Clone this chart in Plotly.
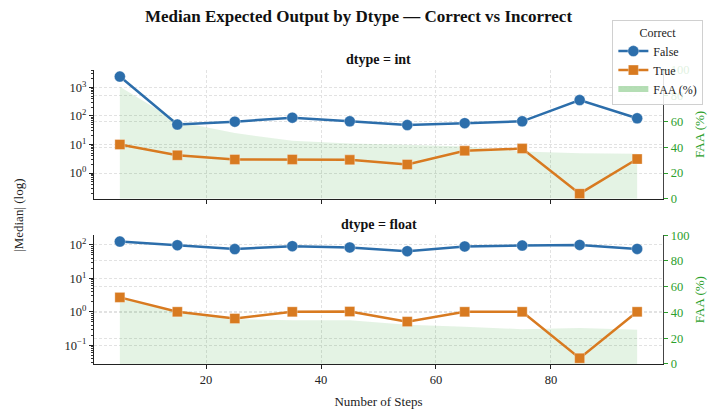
import plotly.graph_objects as go

steps = [5, 15, 25, 35, 45, 55, 65, 75, 85, 95]
int_false = [2400, 50, 63, 87, 65, 48, 56, 65, 360, 83]
int_true = [10, 4.2, 3.0, 3.0, 2.9, 2.0, 6.0, 7.2, 0.19, 3.1]
int_faa = [87, 60, 51, 45, 43, 42, 40.5, 36.7, 35.4, 35]
float_false = [126, 98, 75, 92, 84, 65, 90, 96, 100, 76]
float_true = [2.7, 1.0, 0.63, 1.0, 1.02, 0.51, 1.0, 1.0, 0.041, 1.0]
float_faa = [51.4, 40.6, 34.8, 34, 34, 30.4, 29, 27, 28, 26.6]

log_tickvals = [0.1, 1, 10, 100, 1000]
log_ticktext = ["10<sup>\u22121</sup>", "10<sup>0</sup>", "10<sup>1</sup>", "10<sup>2</sup>", "10<sup>3</sup>"]
faa_ticks = [0, 20, 40, 60, 80, 100]
minor_vals = [k * 10.0 ** p for p in range(-2, 4) for k in range(2, 10)]

BLUE = "#2c6eab"
ORANGE = "#d87a20"
GREEN = "#2ca02c"
FILL = "rgba(44,160,44,0.13)"
FONT = "Liberation Serif"

fig = go.Figure()

panels = [
    ("x", "y", "y2", int_false, int_true, int_faa),
    ("x2", "y3", "y4", float_false, float_true, float_faa),
]
for i, (xa, ya_faa, ya_log, fv, tv, faa) in enumerate(panels):
    fig.add_trace(go.Scatter(x=steps, y=faa, xaxis=xa, yaxis=ya_faa, fill="tozeroy",
                             mode="none", fillcolor=FILL, name="FAA (%)",
                             showlegend=False, hoverinfo="skip"))
    fig.add_trace(go.Scatter(x=steps, y=fv, xaxis=xa, yaxis=ya_log, mode="lines+markers",
                             line=dict(color=BLUE, width=2.5),
                             marker=dict(symbol="circle", size=11, color=BLUE,
                                         line=dict(color="rgba(255,255,255,0.4)", width=0.8)),
                             name="False", legendgroup="False", legendrank=1,
                             showlegend=(i == 0)))
    fig.add_trace(go.Scatter(x=steps, y=tv, xaxis=xa, yaxis=ya_log, mode="lines+markers",
                             line=dict(color=ORANGE, width=2.5),
                             marker=dict(symbol="square", size=10, color=ORANGE,
                                         line=dict(color="rgba(255,255,255,0.4)", width=0.8)),
                             name="True", legendgroup="True", legendrank=2,
                             showlegend=(i == 0)))

# legend proxy for FAA
fig.add_trace(go.Scatter(x=[None], y=[None], xaxis="x", yaxis="y", fill="tozeroy", mode="none",
                         fillcolor="rgba(44,160,44,0.35)", name="FAA (%)", legendrank=3,
                         showlegend=True))

grid = dict(showgrid=True, gridcolor="#e2e2e2", griddash="3px,2px", gridwidth=0.8)

xcommon = dict(range=[0.5, 99.5], dtick=20, tick0=0, ticks="outside", ticklen=4,
               tickcolor="#222", showline=True, linecolor="#222", linewidth=1.3,
               zeroline=False, tickfont=dict(size=12.5, color="#222"), **grid)

faa_common = dict(range=[0, 100], tickvals=faa_ticks, side="right", ticks="outside",
                  ticklen=4, tickcolor=GREEN, showline=True, linecolor="#444", linewidth=1.3,
                  tickfont=dict(size=12.5, color=GREEN), zeroline=False,
                  title=dict(text="FAA (%)", font=dict(size=13, color=GREEN), standoff=6),
                  **grid)

log_common = dict(type="log", side="left", tickvals=log_tickvals, ticktext=log_ticktext,
                  ticks="outside", ticklen=4, tickcolor="#222", showline=True,
                  linecolor="#222", linewidth=1.3, zeroline=False,
                  tickfont=dict(size=12.5, color="#222"),
                  minor=dict(tickmode="array", tickvals=minor_vals, ticks="outside",
                             ticklen=2, tickcolor="#333", tickwidth=0.8, showgrid=False),
                  **grid)

fig.update_layout(
    width=717, height=418,
    margin=dict(l=94, r=51, t=70, b=49),
    paper_bgcolor="white", plot_bgcolor="white",
    font=dict(family=FONT, size=12, color="#222"),
    title=dict(text="<b>Median Expected Output by Dtype \u2014 Correct vs Incorrect</b>",
               x=0.5, xanchor="center", y=0.975, yanchor="top",
               font=dict(size=17, color="#111")),
    xaxis=dict(domain=[0, 1], anchor="y", showticklabels=False, **xcommon),
    xaxis2=dict(domain=[0, 1], anchor="y3",
                title=dict(text="Number of Steps", font=dict(size=13), standoff=10),
                **xcommon),
    yaxis=dict(domain=[0.562, 1], anchor="x", **faa_common),
    yaxis2=dict(overlaying="y", anchor="x", range=[-0.9, 3.61], **log_common),
    yaxis3=dict(domain=[0, 0.438], anchor="x2", **faa_common),
    yaxis4=dict(overlaying="y3", anchor="x2", range=[-1.56, 2.29], **log_common),
    legend=dict(x=0.911, y=1.17, xanchor="left", yanchor="top",
                bgcolor="rgba(255,255,255,0.85)", bordercolor="#d0d0d0", borderwidth=1,
                font=dict(size=12), title=dict(text="Correct", side="top center",
                                               font=dict(size=12)),
                tracegroupgap=0, itemwidth=30),
    showlegend=True,
    annotations=[
        dict(text="<b>dtype = int</b>", x=0.5, y=1.0, xref="paper", yref="paper",
             xanchor="center", yanchor="bottom", yshift=1, showarrow=False,
             font=dict(size=14, color="#111")),
        dict(text="<b>dtype = float</b>", x=0.5, y=0.438, xref="paper", yref="paper",
             xanchor="center", yanchor="bottom", yshift=1, showarrow=False,
             font=dict(size=14, color="#111")),
        dict(text="|Median| (log)", x=(18 - 94) / (717 - 94 - 51),
             y=(369 - 218) / (418 - 70 - 49), xref="paper", yref="paper",
             showarrow=False, textangle=-90, font=dict(size=13, color="#222"),
             xanchor="center", yanchor="middle"),
    ],
)

fig.write_html("out.html")
